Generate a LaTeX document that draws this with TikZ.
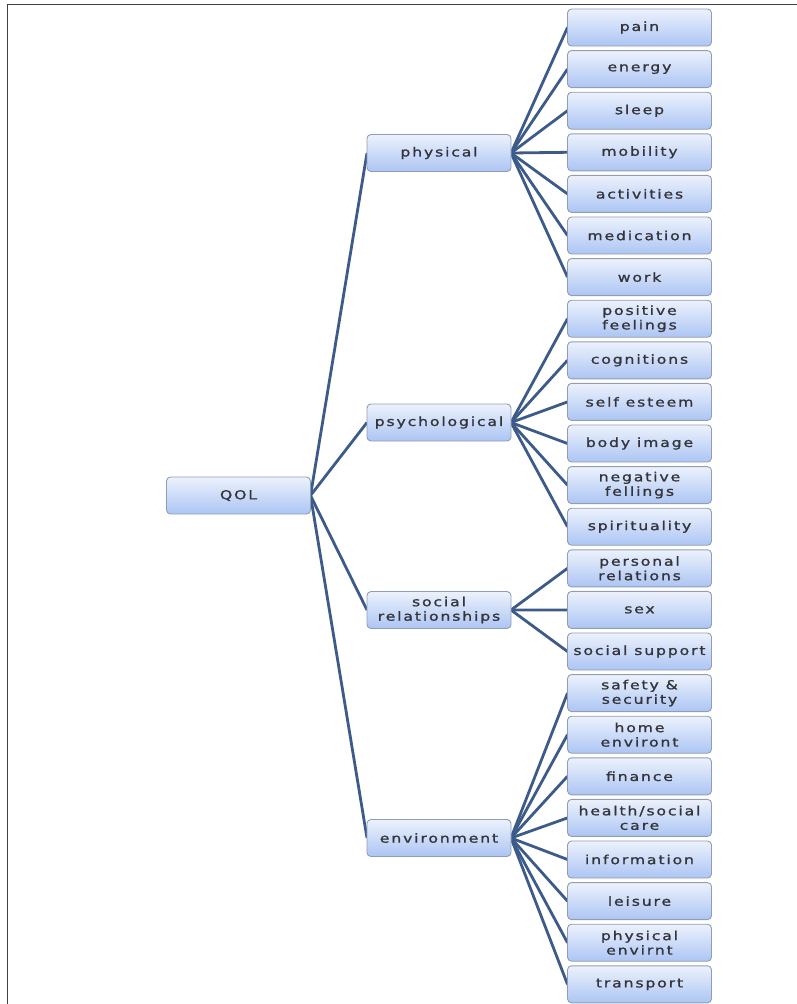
\documentclass[tikz,border=0pt]{standalone}
\usepackage{fontspec}
\usepackage{tikz}
\usetikzlibrary{positioning,backgrounds}
\newfontfamily\boxfont{DejaVu Sans}[FakeStretch=1.25,FakeBold=1.2,LetterSpace=15]
\definecolor{linkblue}{RGB}{60,90,138}
\definecolor{boxtop}{RGB}{236,242,252}
\definecolor{boxbottom}{RGB}{172,197,244}
\definecolor{boxline}{RGB}{145,157,178}
\definecolor{boxtext}{RGB}{52,52,58}

\begin{document}
\begin{tikzpicture}[x=1pt,y=-1pt]
            \tikzstyle{box} = [rectangle, rounded corners=4pt, draw=boxline, line width=0.9pt, top color=boxtop, bottom color=boxbottom, minimum width=144pt, minimum height=37pt, inner sep=0pt, outer sep=0pt, align=center, text=boxtext, font=\boxfont\fontsize{12.5}{14.5}\selectfont]
            \tikzstyle{every edge} = [draw=linkblue, line width=2.8pt]
            \useasboundingbox (0,0) rectangle (797,1004);
            \draw[line width=1.5pt, black!75] (7.5,1004) -- (7.5,4.5) -- (797,4.5);

            % root and the four domains
            \node[box](qol) at (238.5,495.5){QOL};
            \node[box](physical) at (439,153){physical};
            \node[box](psych) at (439,422.5){psychological};
            \node[box](social) at (439,610){social\\relationships};
            \node[box](env) at (439,838){environment};

            % facets
            \node[box](pain) at (639.5,27.5){pain};
            \node[box, below=4.6pt of pain](energy){energy};
            \node[box, below=4.6pt of energy](sleep){sleep};
            \node[box, below=4.6pt of sleep](mobility){mobility};
            \node[box, below=4.6pt of mobility](activities){activities};
            \node[box, below=4.6pt of activities](medication){medication};
            \node[box, below=4.6pt of medication](work){work};
            \node[box, below=4.6pt of work](posfeel){positive\\feelings};
            \node[box, below=4.6pt of posfeel](cognitions){cognitions};
            \node[box, below=4.6pt of cognitions](selfesteem){self esteem};
            \node[box, below=4.6pt of selfesteem](bodyimage){body image};
            \node[box, below=4.6pt of bodyimage](negfeel){negative\\fellings};
            \node[box, below=4.6pt of negfeel](spirit){spirituality};
            \node[box, below=4.6pt of spirit](personal){personal\\relations};
            \node[box, below=4.6pt of personal](sex){sex};
            \node[box, below=4.6pt of sex](support){social support};
            \node[box, below=4.6pt of support](safety){safety \&\\security};
            \node[box, below=4.6pt of safety](home){home\\environt};
            \node[box, below=4.6pt of home](finance){finance};
            \node[box, below=4.6pt of finance](health){health/social\\care};
            \node[box, below=4.6pt of health](information){information};
            \node[box, below=4.6pt of information](leisure){leisure};
            \node[box, below=4.6pt of leisure](physenv){physical\\envirnt};
            \node[box, below=4.6pt of physenv](transport){transport};

            \begin{scope}[on background layer]
            \path (qol.east) edge (physical.west) edge (psych.west) edge (social.west) edge (env.west);
            \path (physical.east) edge (pain.west) edge (energy.west) edge (sleep.west) edge (mobility.west) edge (activities.west) edge (medication.west) edge (work.west);
            \path (psych.east) edge (posfeel.west) edge (cognitions.west) edge (selfesteem.west) edge (bodyimage.west) edge (negfeel.west) edge (spirit.west);
            \path (social.east) edge (personal.west) edge (sex.west) edge (support.west);
            \path (env.east) edge (safety.west) edge (home.west) edge (finance.west) edge (health.west) edge (information.west) edge (leisure.west) edge (physenv.west) edge (transport.west);
            \end{scope}
      \end{tikzpicture}
\end{document}
